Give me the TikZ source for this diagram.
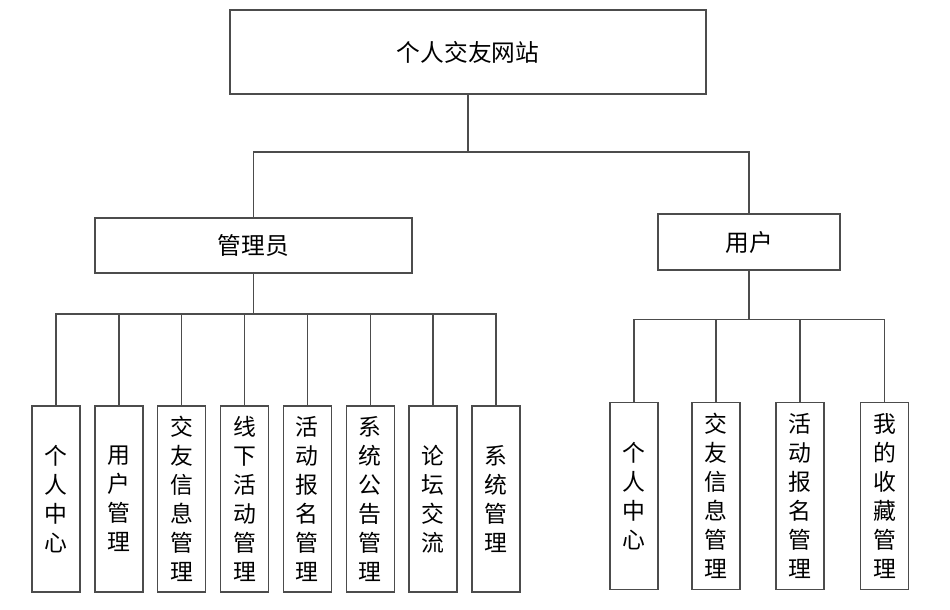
\documentclass[tikz,border=0pt]{standalone}
\usepackage{fontspec}
\newfontfamily\cjk{Noto Sans CJK SC}
\usepackage{tikz}
\usetikzlibrary{positioning}

\begin{document}
\begin{tikzpicture}[
  x=0.02cm, y=-0.02cm,
  every node/.style={font=\cjk\fontsize{13pt}{16.5pt}\selectfont},
  line/.style={draw=black!70,line width=0.7pt},
  topbox/.style={line,minimum width=9.52cm,minimum height=1.68cm,inner sep=0pt,
    font=\cjk\fontsize{13.5pt}{16pt}\selectfont},
  rolebox/.style={line,minimum height=1.1cm,inner sep=0pt,
    font=\cjk\fontsize{13.5pt}{16pt}\selectfont},
  leaf/.style={line,align=center,minimum width=0.96cm,minimum height=3.72cm,inner sep=0pt}
]
  \useasboundingbox (0,0) rectangle (950,609);

  \node[topbox] (site) at (468,52) {个人交友网站};
  \node[rolebox,minimum width=6.34cm] (admin) at (253.5,245.5) {管理员};
  \node[rolebox,minimum width=3.64cm,minimum height=1.12cm] (user) at (749,242) {用户};

  \coordinate (bus) at (468,152);
  \coordinate (abus) at (253.5,314);
  \coordinate (ubus) at (749,319.5);

  % admin functions
  \node[leaf] (a1) at (56,499)    {个\\人\\中\\心};
  \node[leaf] (a2) at (118.9,499) {用\\户\\管\\理};
  \node[leaf] (a3) at (181.7,499) {交\\友\\信\\息\\管\\理};
  \node[leaf] (a4) at (244.6,499) {线\\下\\活\\动\\管\\理};
  \node[leaf] (a5) at (307.4,499) {活\\动\\报\\名\\管\\理};
  \node[leaf] (a6) at (370.3,499) {系\\统\\公\\告\\管\\理};
  \node[leaf] (a7) at (433.1,499) {论\\坛\\交\\流};
  \node[leaf] (a8) at (496,499)   {系\\统\\管\\理};

  % user functions
  \node[leaf,minimum height=3.73cm] (u1) at (634,496)   {个\\人\\中\\心};
  \node[leaf,minimum height=3.73cm] (u2) at (716,496)   {交\\友\\信\\息\\管\\理};
  \node[leaf,minimum height=3.73cm] (u3) at (800,496)   {活\\动\\报\\名\\管\\理};
  \node[leaf,minimum height=3.73cm] (u4) at (884.5,496) {我\\的\\收\\藏\\管\\理};

  \draw[line] (site) -- (bus);
  \draw[line] (bus) -| (admin.north);
  \draw[line] (bus) -| (user.north);

  \draw[line] (admin) -- (abus);
  \draw[line] (abus) -| (a1.north);
  \draw[line] (abus) -| (a8.north);
  \draw[line] (a2.north) -- (a2.north |- abus);
  \draw[line] (a3.north) -- (a3.north |- abus);
  \draw[line] (a4.north) -- (a4.north |- abus);
  \draw[line] (a5.north) -- (a5.north |- abus);
  \draw[line] (a6.north) -- (a6.north |- abus);
  \draw[line] (a7.north) -- (a7.north |- abus);

  \draw[line] (user) -- (ubus);
  \draw[line] (ubus) -| (u1.north);
  \draw[line] (ubus) -| (u4.north);
  \draw[line] (u2.north) -- (u2.north |- ubus);
  \draw[line] (u3.north) -- (u3.north |- ubus);
\end{tikzpicture}
\end{document}
